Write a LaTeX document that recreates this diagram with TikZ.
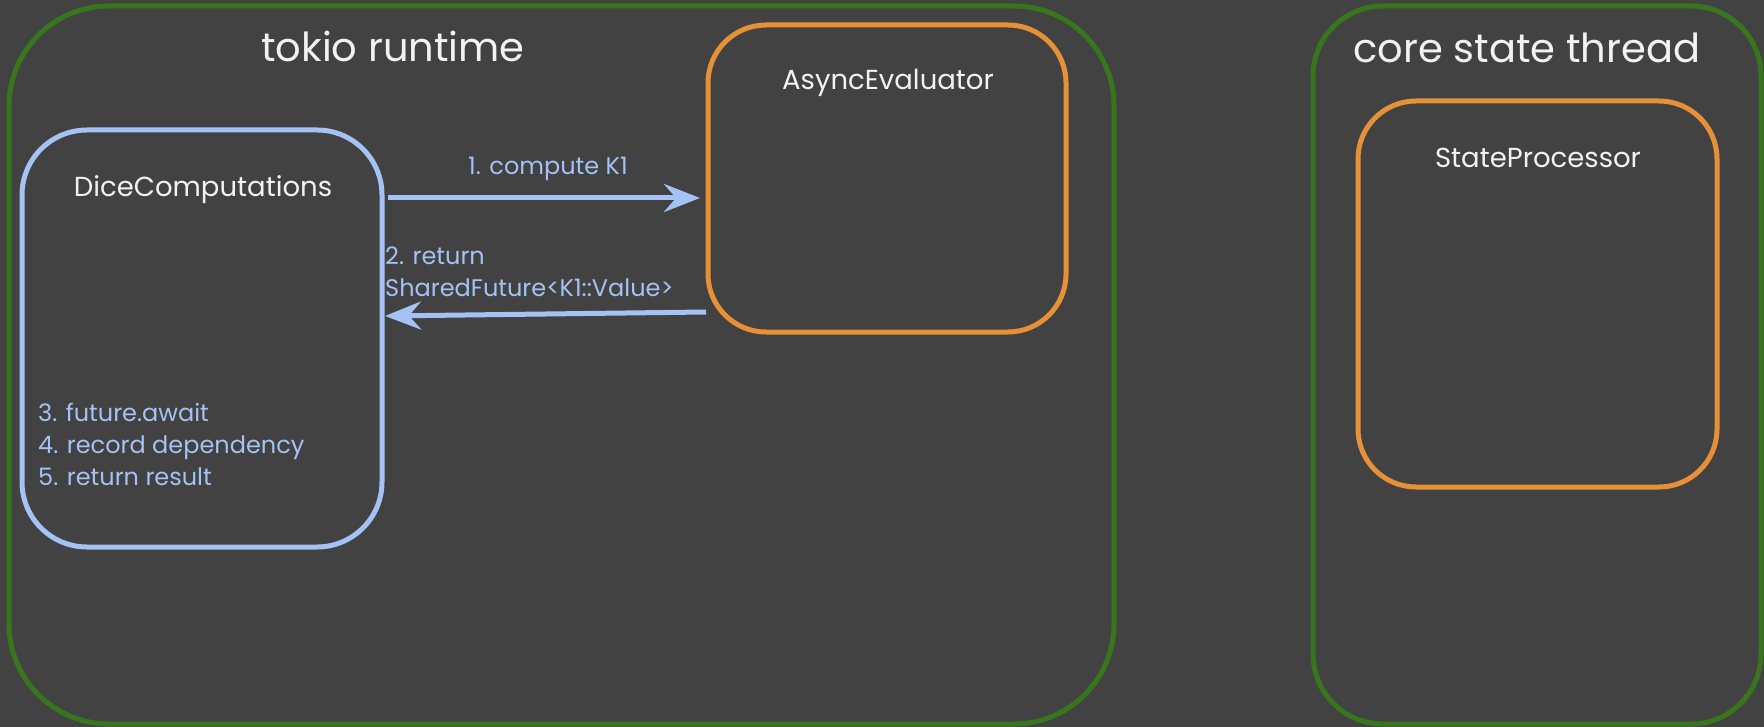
\documentclass[tikz,border=0pt]{standalone}
\usepackage{fontspec}
\setmainfont{Poppins}
\usetikzlibrary{arrows.meta}
\definecolor{bg}{HTML}{424242}
\definecolor{grn}{HTML}{38761D}
\definecolor{blu}{HTML}{A4C2F4}
\definecolor{org}{HTML}{E69138}
\definecolor{txt}{HTML}{F2F2F2}
\begin{document}
\begin{tikzpicture}[x=1pt,y=-1pt,
  frame/.style={draw, line width=5pt, anchor=north west, inner sep=0pt, outer sep=0pt},
  title/.style={text=txt, font=\fontsize{40}{46}\selectfont, inner sep=0pt, anchor=base},
  boxname/.style={text=txt, font=\fontsize{27.5}{32}\selectfont, inner sep=0pt, anchor=base},
  lbl/.style={text=blu, font=\fontsize{24}{32}\selectfont, inner sep=0pt, align=left},
  flow/.style={draw=blu, line width=5pt, -{Stealth[length=36pt,width=28pt,inset=12pt]}}]
\fill[bg] (0,0) rectangle (1764,727);
\useasboundingbox (0,0) rectangle (1764,727);
% containers
\node[frame, draw=grn, rounded corners=100pt, minimum width=1105pt, minimum height=718pt] (tokio) at (9,6) {};
\node[frame, draw=grn, rounded corners=70pt, minimum width=448pt, minimum height=718pt] (core) at (1313,6) {};
\node[title] (tokiot) at (393,62) {tokio runtime};
\node[title] (coret) at (1527,63) {core state thread};
% inner boxes
\node[frame, draw=org, rounded corners=58pt, minimum width=358pt, minimum height=307pt] (async) at (708,25) {};
\node[frame, draw=blu, rounded corners=65pt, minimum width=360pt, minimum height=417pt] (dice) at (22,130) {};
\node[frame, draw=org, rounded corners=58pt, minimum width=359pt, minimum height=386pt] (state) at (1358,101) {};
\node[boxname] (asynct) at (888,90) {AsyncEvaluator};
\node[boxname] (dicet) at (203,197) {DiceComputations};
\node[boxname] (statet) at (1538,168) {StateProcessor};
% connectors
\coordinate (a1s) at ([xshift=6pt]dice.east |- 0,198);
\coordinate (a1e) at ([xshift=-8pt]async.west |- 0,198);
\draw[flow] (a1s) -- (a1e);
\node[lbl, anchor=base] (l1) at (548,175) {1. compute K1};
\coordinate (a2s) at ([xshift=-2pt]async.west |- 0,312);
\coordinate (a2e) at ([xshift=3pt]dice.east |- 0,316);
\draw[flow] (a2s) -- (a2e);
\node[lbl, anchor=north west] (l2) at (385,247) {2. return\\SharedFuture<K1::Value>};
\node[lbl, anchor=north west] (l3) at (38,403) {3. future.await\\4. record dependency\\5. return result};
\end{tikzpicture}
\end{document}
